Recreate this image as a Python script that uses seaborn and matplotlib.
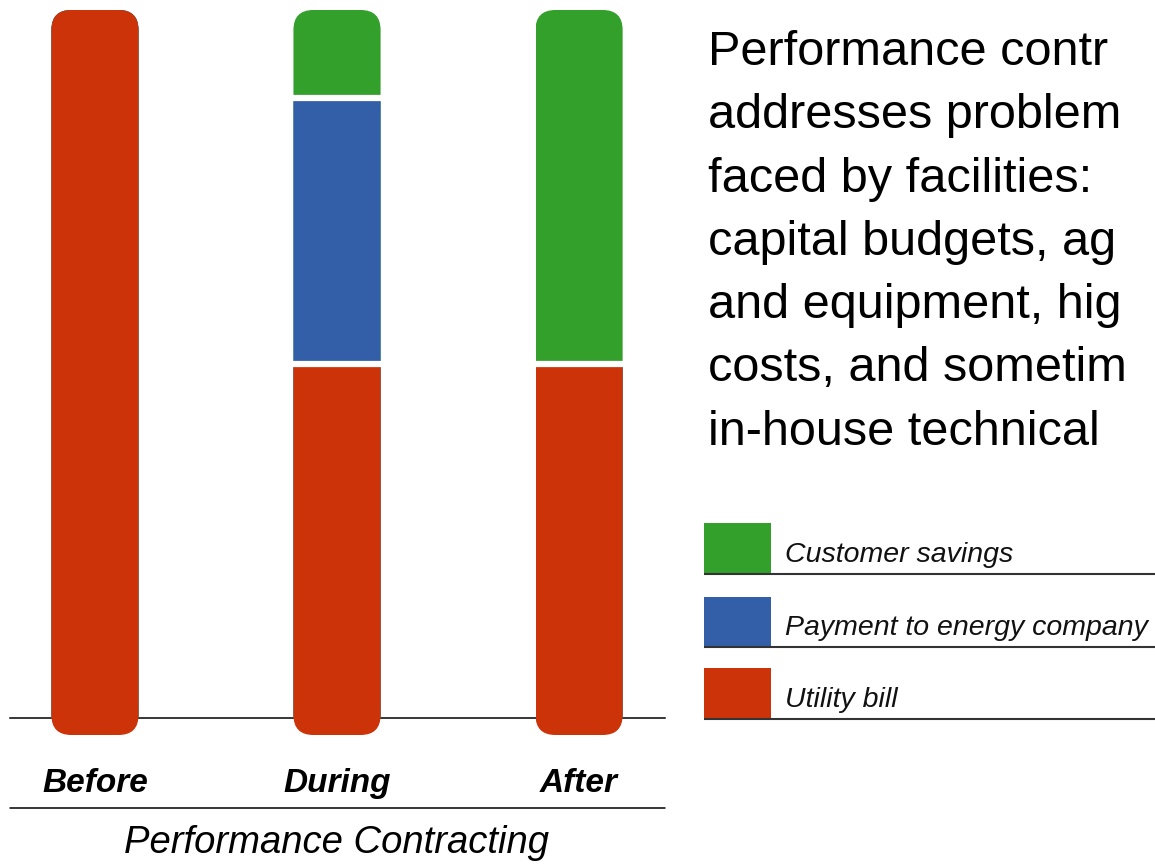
import matplotlib
matplotlib.use("Agg")
import matplotlib.pyplot as plt
from matplotlib.patches import FancyBboxPatch, Rectangle
from matplotlib.lines import Line2D
import pandas as pd
import seaborn as sns

# data (share of the bill, before / during / after)
stages = ["Before", "During", "After"]
utility_bill = [100, 50, 50]
payment_to_energy_company = [0, 37.5, 0]
customer_savings = [0, 12.5, 50]

series_names = ["Customer savings", "Payment to energy company", "Utility bill"]
series_colors = ["#33a02c", "#325fa8", "#cc3308"]

# the text block runs off the right edge in the original, only the visible part is kept
body_lines = [
    "Performance contr",
    "addresses problem",
    "faced by facilities:",
    "capital budgets, ag",
    "and equipment, hig",
    "costs, and sometim",
    "in-house technical",
]

sns.set_theme(style="white")
narrow = ["Liberation Sans Narrow", "Liberation Sans", "DejaVu Sans"]
plt.rcParams["font.family"] = ["Liberation Sans", "DejaVu Sans"]

W, H = 1155, 865
fig = plt.figure(figsize=(W / 100, H / 100), dpi=100)


def px_axes(x0, y0, x1, y1):
    # box given in pixels, y measured from the top
    return fig.add_axes([x0 / W, 1 - y1 / H, (x1 - x0) / W, (y1 - y0) / H])


ax = px_axes(10, 0, 665, 718)

df = pd.DataFrame({
    "stage": stages,
    "utility": utility_bill,
    "payment": payment_to_energy_company,
    "savings": customer_savings,
})
df["mid"] = df["utility"] + df["payment"]
df["top"] = df["mid"] + df["savings"]

bar_w = 0.36
# stacked: draw the totals first, then cover with the lower segments
for col, color in zip(["top", "mid", "utility"], series_colors):
    sns.barplot(data=df, x="stage", y=col, order=stages, color=color,
                saturation=1, width=bar_w, linewidth=0, errorbar=None, ax=ax)

ax.set_xlim(-0.351, 2.355)
ax.set_ylim(0, 101.41)

# unit sizes in pixels, for the rounded ends
xpp = (2.355 + 0.351) / 655
ypp = 101.41 / 718
cap = 17 * ypp          # rounded foot hangs below the baseline
radius = 20 * xpp
aspect = ypp / xpp

n = len(stages)
for p in ax.patches[2 * n:]:
    p.set_y(-cap - 1)
    p.set_height(p.get_height() + cap + 1)

for i in range(n):
    clip = FancyBboxPatch((i - bar_w / 2, -cap), bar_w, df["top"][i] + cap,
                          boxstyle=f"round,pad=0,rounding_size={radius}",
                          mutation_aspect=aspect, transform=ax.transData)
    for p in ax.patches[i::n]:
        p.set_clip_on(True)
        p.set_clip_path(clip)
        p.set_clip_box(None)
        p.set_zorder(2)

# white gaps between segments
for i in range(n):
    segs = [df["utility"][i], df["payment"][i], df["savings"][i]]
    level = 0
    prev = None
    for s in segs:
        if s > 0:
            if prev is not None:
                ax.hlines(level, i - bar_w / 2, i + bar_w / 2, color="white", lw=4.5, zorder=3)
            prev = s
        level += s

for side in ["top", "left", "right"]:
    ax.spines[side].set_visible(False)
ax.spines["bottom"].set_color("black")
ax.spines["bottom"].set_linewidth(1.1)
ax.spines["bottom"].set_zorder(1)
ax.set_yticks([])
ax.set_xlabel("")
ax.set_ylabel("")
ax.tick_params(axis="x", length=0, pad=36)
for lab in ax.get_xticklabels():
    lab.set_fontfamily(narrow)
    lab.set_fontsize(24)
    lab.set_fontweight("bold")
    lab.set_fontstyle("italic")
    lab.set_color("black")

fig.add_artist(Line2D([10 / W, 665 / W], [1 - 808 / H, 1 - 808 / H], color="black", lw=1.1))
fig.text(337 / W, 1 - 853 / H, "Performance Contracting", ha="center", va="baseline",
         fontsize=27.5, style="italic", family=narrow, color="black")

# legend with underlines
lax = px_axes(690, 500, 1155, 740)
lax.set_xlim(690, 1155)
lax.set_ylim(740, 500)
lax.axis("off")
row_tops = [523, 597, 668]
row_bottoms = [573, 646, 718]
for name, color, t, b in zip(series_names, series_colors, row_tops, row_bottoms):
    lax.add_patch(Rectangle((704, t), 67, b - t, color=color, lw=0))
    lax.hlines(b + 0.5, 704, 1155, color="#333333", lw=1.5)
    lax.text(785, b - 11, name, ha="left", va="baseline", fontsize=20.5,
             style="italic", family=narrow, color="#111111")

# explanatory text block
tax = px_axes(700, 0, 1155, 480)
tax.set_xlim(700, 1155)
tax.set_ylim(480, 0)
tax.axis("off")
for k, line in enumerate(body_lines):
    tax.text(708, 65 + k * 63.3, line, ha="left", va="baseline", fontsize=35,
             color="black")

fig.savefig("out.png", dpi=100)
